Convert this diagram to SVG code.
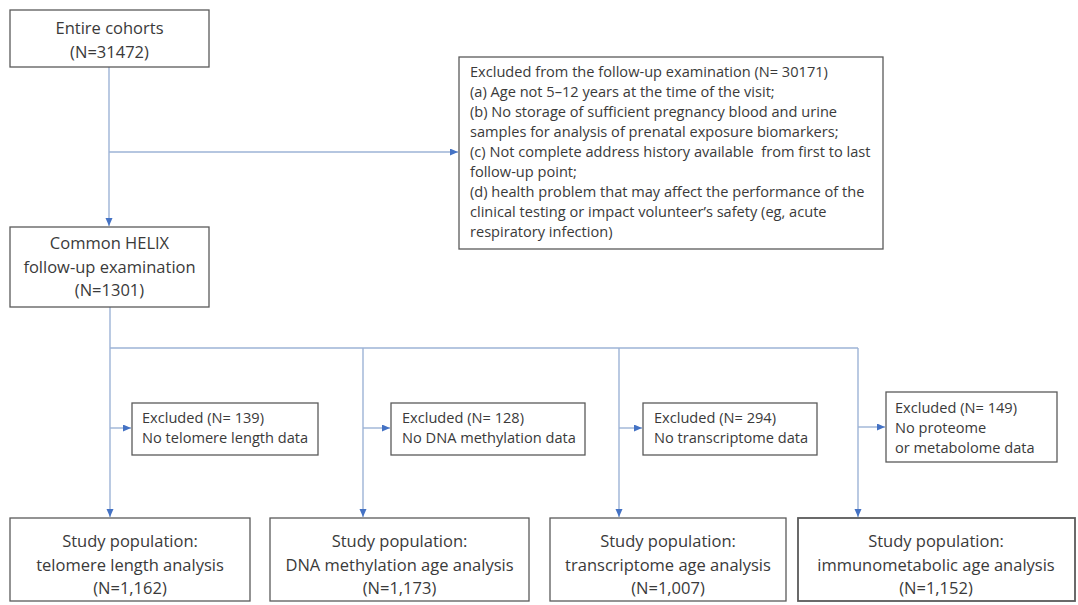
<svg xmlns="http://www.w3.org/2000/svg" width="1078" height="605" viewBox="0 0 1078 605">
<style>
.box{fill:#fff;stroke:#5a5a5a;stroke-width:1.3}
.big{font-family:"Open Sans","Liberation Sans",sans-serif;font-size:16.5px;fill:#3a3a3a;text-anchor:middle}
.sm{font-family:"Open Sans","Liberation Sans",sans-serif;font-size:14.6px;fill:#3a3a3a}
.ln{fill:none;stroke:#9db3d6;stroke-width:1.4}
</style>
<defs>
<marker id="ah" markerUnits="userSpaceOnUse" markerWidth="9" markerHeight="8" refX="8" refY="3.5" orient="auto">
<path d="M0,0 L8,3.5 L0,7 z" fill="#4472c4"/>
</marker>
</defs>
<rect width="1078" height="605" fill="#fff"/>
<g id="connectors">
<path class="ln" d="M109,67 V226" marker-end="url(#ah)"/>
<path class="ln" d="M109,152 H458" marker-end="url(#ah)"/>
<path class="ln" d="M110,307 V517" marker-end="url(#ah)"/>
<path class="ln" d="M110,348 H858"/>
<path class="ln" d="M363,348 V517" marker-end="url(#ah)"/>
<path class="ln" d="M619,348 V517" marker-end="url(#ah)"/>
<path class="ln" d="M858,348 V517" marker-end="url(#ah)"/>
<path class="ln" d="M110,428 H131" marker-end="url(#ah)"/>
<path class="ln" d="M363,428 H390" marker-end="url(#ah)"/>
<path class="ln" d="M619,428 H642" marker-end="url(#ah)"/>
<path class="ln" d="M858,427 H885" marker-end="url(#ah)"/>
</g>
<g id="entire">
<rect class="box" x="10" y="10" width="199" height="57"/>
<text class="big" x="109.5" y="34">Entire cohorts</text>
<text class="big" x="109.5" y="58">(N=31472)</text>
</g>
<g id="excluded-followup">
<rect class="box" x="459" y="57" width="424" height="192"/>
<text class="sm" x="470" y="77">Excluded from the follow-up examination (N= 30171)</text>
<text class="sm" x="470" y="97">(a) Age not 5–12 years at the time of the visit;</text>
<text class="sm" x="470" y="117">(b) No storage of sufficient pregnancy blood and urine</text>
<text class="sm" x="470" y="137">samples for analysis of prenatal exposure biomarkers;</text>
<text class="sm" x="470" y="157" xml:space="preserve">(c) Not complete address history available  from first to last</text>
<text class="sm" x="470" y="177">follow-up point;</text>
<text class="sm" x="470" y="197">(d) health problem that may affect the performance of the</text>
<text class="sm" x="470" y="217">clinical testing or impact volunteer’s safety (eg, acute</text>
<text class="sm" x="470" y="237">respiratory infection)</text>
</g>
<g id="helix">
<rect class="box" x="10" y="227" width="199" height="80"/>
<text class="big" x="109.5" y="249">Common HELIX</text>
<text class="big" x="109.5" y="273">follow-up examination</text>
<text class="big" x="109.5" y="296">(N=1301)</text>
</g>
<g id="excl-telomere">
<rect class="box" x="132" y="403" width="186" height="52"/>
<text class="sm" x="142" y="423">Excluded (N= 139)</text>
<text class="sm" x="142" y="443">No telomere length data</text>
</g>
<g id="excl-dna">
<rect class="box" x="391" y="403" width="194" height="52"/>
<text class="sm" x="402" y="423">Excluded (N= 128)</text>
<text class="sm" x="402" y="443">No DNA methylation data</text>
</g>
<g id="excl-transcriptome">
<rect class="box" x="643" y="403" width="174" height="52"/>
<text class="sm" x="654" y="423">Excluded (N= 294)</text>
<text class="sm" x="654" y="443">No transcriptome data</text>
</g>
<g id="excl-immuno">
<rect class="box" x="886" y="392" width="171" height="70"/>
<text class="sm" x="895" y="413">Excluded (N= 149)</text>
<text class="sm" x="895" y="433">No proteome</text>
<text class="sm" x="895" y="453">or metabolome data</text>
</g>
<g id="study-telomere">
<rect class="box" x="10" y="518" width="240" height="83"/>
<text class="big" x="130" y="547">Study population:</text>
<text class="big" x="130" y="571">telomere length analysis</text>
<text class="big" x="130" y="594">(N=1,162)</text>
</g>
<g id="study-dna">
<rect class="box" x="270" y="518" width="259" height="83"/>
<text class="big" x="399.5" y="547">Study population:</text>
<text class="big" x="399.5" y="571">DNA methylation age analysis</text>
<text class="big" x="399.5" y="594">(N=1,173)</text>
</g>
<g id="study-transcriptome">
<rect class="box" x="550" y="518" width="236" height="83"/>
<text class="big" x="668" y="547">Study population:</text>
<text class="big" x="668" y="571">transcriptome age analysis</text>
<text class="big" x="668" y="594">(N=1,007)</text>
</g>
<g id="study-immuno">
<rect class="box" x="798" y="518" width="277" height="83" style="stroke-width:1.8"/>
<text class="big" x="936" y="547">Study population:</text>
<text class="big" x="936" y="571">immunometabolic age analysis</text>
<text class="big" x="936" y="594">(N=1,152)</text>
</g>
</svg>
